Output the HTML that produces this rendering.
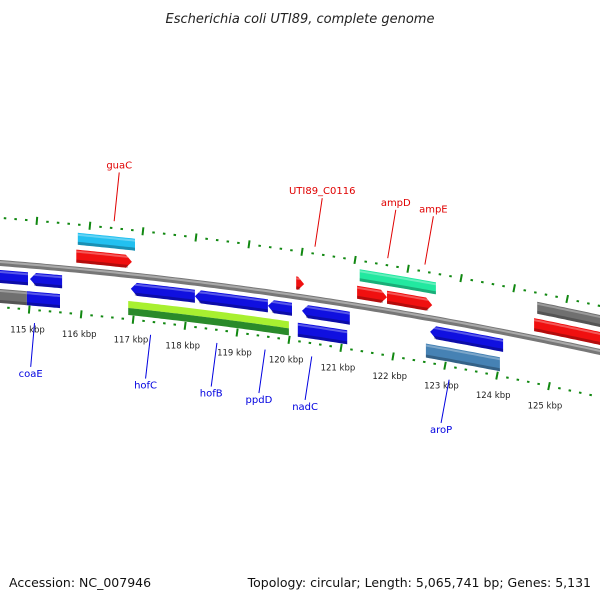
<!DOCTYPE html>
<html><head><meta charset="utf-8"><style>
body{margin:0;background:#fff;width:600px;height:600px;overflow:hidden}
svg{display:block;font-family:"DejaVu Sans","Liberation Sans",sans-serif}
</style></head><body>
<svg id="map" width="600" height="600" viewBox="0 0 600 600">
<text x="300" y="23" text-anchor="middle" font-size="13" font-style="italic" fill="#222">Escherichia coli UTI89, complete genome</text>
<text x="9" y="587" font-size="12.5" fill="#111">Accession: NC_007946</text>
<text x="591" y="587" text-anchor="end" font-size="12.5" fill="#111">Topology: circular; Length: 5,065,741 bp; Genes: 5,131</text>
<g id="layer"></g>
</svg>
<script>
// feature data (kbp)
const featStart = [114.40,115.02,115.93,115.90,116.94,118.16,119.55,120.20,120.12,120.09,121.25,121.82,122.64,122.56,121.30,124.68,124.62,114.40,114.96];
const featEnd   = [114.98,115.63,117.02,116.96,118.16,119.55,120.01,121.11,121.06,120.24,121.82,122.68,124.03,123.97,122.75,126.20,126.20,114.96,115.59];
const featTrack = ["rev","rev","cog","fwd","rev","rev","rev","rev","cog2","fwd","fwd","fwd","rev","cog2","cog","cog","fwd","cog2","cog2"];
const featColor = ["#1010e0","#1010e0","#22c0f0","#f01010","#1010e0","#1010e0","#1010e0","#1010e0","#1010e0","#f01010","#f01010","#f01010","#1010e0","#4682b4","#22e8a0","#707070","#f01010","#707070","#1010e0"];
const featDir   = [0,-1,0,1,-1,-1,-1,-1,0,1,1,1,-1,0,0,0,0,0,0];
const tickKbp = [115,116,117,118,119,120,121,122,123,124,125];
const tickLabels = ["115 kbp","116 kbp","117 kbp","118 kbp","119 kbp","120 kbp","121 kbp","122 kbp","123 kbp","124 kbp","125 kbp"];
const geneNames = ["guaC","UTI89_C0116","ampD","ampE","coaE","hofC","hofB","ppdD","nadC","aroP"];
const geneKbp   = [116.52,120.30,121.67,122.37,115.20,117.44,118.72,119.65,120.55,123.20];
const geneSide  = [-1,-1,-1,-1,1,1,1,1,1,1];

const NS="http://www.w3.org/2000/svg";
const layer=document.getElementById('layer');
function kx(k){return 29+(k-115)*52.5;}
function cy(x){return 263+0.0783*x+1.167e-4*x*x;}
function pt(x,d){const s=0.0783+2.333e-4*x;const n=Math.sqrt(1+s*s);return [x-d*s/n,cy(x)+d/n];}
function mk(tag,attrs){const e=document.createElementNS(NS,tag);for(const k in attrs)e.setAttribute(k,attrs[k]);layer.appendChild(e);return e;}
function vp(x,d){return [x,cy(x)+d];}
function band(x1,x2,d1,d2,dir){
  const top=[],bot=[];const tip=6;
  let a=x1,b=x2;if(dir===1)b=x2-tip;if(dir===-1)a=x1+tip;
  for(let x=a;x<=b;x+=3){top.push(vp(x,d1));bot.push(vp(x,d2));}
  top.push(vp(b,d1));bot.push(vp(b,d2));
  let pts=[];
  if(dir===-1)pts.push(vp(x1,(d1+d2)/2));
  pts=pts.concat(top);
  if(dir===1)pts.push(vp(x2,(d1+d2)/2));
  pts=pts.concat(bot.reverse());
  return pts.map(p=>p[0].toFixed(1)+','+p[1].toFixed(1)).join(' ');
}
function tx(k){return kx(k)+4;}
function ring(d,name){
  for(let i=0;i<=60;i++){
    const kk=Math.round((114.4+i*0.2)*5)/5;const x=tx(kk);if(x<-5||x>610)continue;
    const major=Math.abs(kk-Math.round(kk))<0.01;
    const p1=pt(x,d-(major?4:1)),p2=pt(x,d+(major?4:1));
    const l=mk('line',{x1:p1[0],y1:p1[1],x2:p2[0],y2:p2[1],stroke:'#118811','stroke-width':major?2:2.5});
    
    
  }
}
ring(-45,'outer-ring');ring(44,'inner-ring');
tickKbp.forEach((k,i)=>{const p=pt(tx(k),64);
  const t=mk('text',{x:p[0],y:p[1]+3,'text-anchor':'middle','font-size':'8.5',fill:'#222'});t.textContent=tickLabels[i];
  
  });
let bb=[];for(let x=-5;x<=605;x+=5){bb.push(x+','+cy(x).toFixed(1));}
const b1=mk('polyline',{points:bb.join(' '),fill:'none',stroke:'#777','stroke-width':6});


const b2=mk('polyline',{points:bb.map(s=>{const [x,y]=s.split(',');return x+','+(+y-1)}).join(' '),fill:'none',stroke:'#aaa','stroke-width':2});


const tracks={fwd:[-20,-7],cog:[-37,-25],rev:[7,20],cog2:[26,40]};
featStart.forEach((s,i)=>{
  const x1=kx(s),x2=kx(featEnd[i]);const tr=tracks[featTrack[i]];
  const p=mk('polygon',{points:band(x1,x2,tr[0],tr[1],featDir[i]),fill:featColor[i]});
  
  
  const h=mk('polygon',{points:band(x1+(featDir[i]===-1?4:0),x2-(featDir[i]===1?4:0),tr[0]+1,tr[0]+3,0),fill:'#fff','fill-opacity':0.3});
  
  
  const sh=mk('polygon',{points:band(x1+(featDir[i]===-1?4:0),x2-(featDir[i]===1?4:0),tr[1]-3,tr[1],0),fill:'#000','fill-opacity':0.25});
  
  
});
(function(){const x1=kx(116.89),x2=kx(119.95);
 const a=mk('polygon',{points:band(x1,x2,26,33,0),fill:'#a8f030'});
 
 
 const b=mk('polygon',{points:band(x1,x2,33,40,0),fill:'#2a8a2a'});
 
 })();
geneNames.forEach((g,i)=>{
  const x=kx(geneKbp[i]);const sd=geneSide[i];const col=sd<0?'#e00000':'#0000e0';
  const p1=pt(x,sd<0?-52:57),p2=pt(x,sd<0?-101:101);
  const l=mk('line',{x1:p1[0],y1:p1[1],x2:p2[0],y2:p2[1],stroke:col,'stroke-width':1});
  
  
  const t=mk('text',{x:p2[0],y:sd<0?p2[1]-4:p2[1]+10,'text-anchor':'middle','font-size':'10',fill:col});
  t.textContent=g;
  
  
});
</script>
</body></html>
